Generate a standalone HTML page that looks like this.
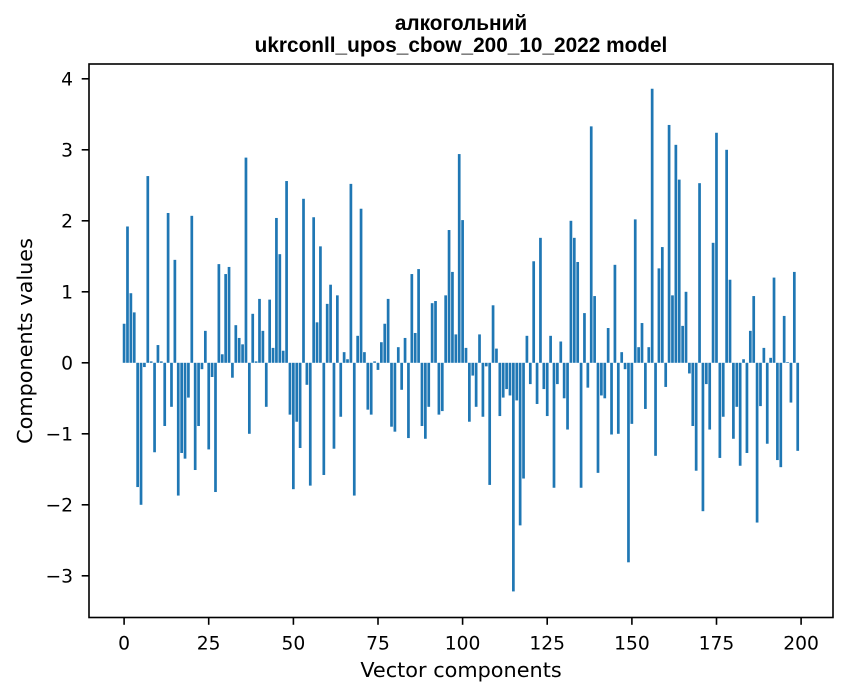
<!DOCTYPE html>
<html>
<head>
<meta charset="utf-8">
<style>
html,body{margin:0;padding:0;background:#fff;}
svg{display:block;}
text{font-family:"DejaVu Sans","Liberation Sans",sans-serif;fill:#000;}
.t{font-family:"Liberation Sans","DejaVu Sans",sans-serif;font-weight:bold;font-size:20.8px;}
.tk{font-size:18.7px;}
.lb{font-size:20.8px;}
</style>
</head>
<body>
<svg width="847" height="696" viewBox="0 0 847 696" xmlns="http://www.w3.org/2000/svg">
<rect x="0" y="0" width="847" height="696" fill="#fff"/>
<g transform="translate(124.1,362.8) scale(3.385,-71)" fill="#1f77b4">
<rect x="-0.4" y="0" width="0.8" height="0.55"/>
<rect x="0.6" y="0" width="0.8" height="1.92"/>
<rect x="1.6" y="0" width="0.8" height="0.98"/>
<rect x="2.6" y="0" width="0.8" height="0.71"/>
<rect x="3.6" y="-1.75" width="0.8" height="1.75"/>
<rect x="4.6" y="-2.0" width="0.8" height="2.0"/>
<rect x="5.6" y="-0.06" width="0.8" height="0.06"/>
<rect x="6.6" y="0" width="0.8" height="2.63"/>
<rect x="7.6" y="0" width="0.8" height="0.02"/>
<rect x="8.6" y="-1.26" width="0.8" height="1.26"/>
<rect x="9.6" y="0" width="0.8" height="0.25"/>
<rect x="10.6" y="0" width="0.8" height="0.02"/>
<rect x="11.6" y="-0.89" width="0.8" height="0.89"/>
<rect x="12.6" y="0" width="0.8" height="2.11"/>
<rect x="13.6" y="-0.62" width="0.8" height="0.62"/>
<rect x="14.6" y="0" width="0.8" height="1.45"/>
<rect x="15.6" y="-1.87" width="0.8" height="1.87"/>
<rect x="16.6" y="-1.27" width="0.8" height="1.27"/>
<rect x="17.6" y="-1.35" width="0.8" height="1.35"/>
<rect x="18.6" y="-0.49" width="0.8" height="0.49"/>
<rect x="19.6" y="0" width="0.8" height="2.07"/>
<rect x="20.6" y="-1.51" width="0.8" height="1.51"/>
<rect x="21.6" y="-0.89" width="0.8" height="0.89"/>
<rect x="22.6" y="-0.09" width="0.8" height="0.09"/>
<rect x="23.6" y="0" width="0.8" height="0.45"/>
<rect x="24.6" y="-1.22" width="0.8" height="1.22"/>
<rect x="25.6" y="-0.2" width="0.8" height="0.2"/>
<rect x="26.6" y="-1.82" width="0.8" height="1.82"/>
<rect x="27.6" y="0" width="0.8" height="1.39"/>
<rect x="28.6" y="0" width="0.8" height="0.12"/>
<rect x="29.6" y="0" width="0.8" height="1.25"/>
<rect x="30.6" y="0" width="0.8" height="1.35"/>
<rect x="31.6" y="-0.21" width="0.8" height="0.21"/>
<rect x="32.6" y="0" width="0.8" height="0.53"/>
<rect x="33.6" y="0" width="0.8" height="0.35"/>
<rect x="34.6" y="0" width="0.8" height="0.26"/>
<rect x="35.6" y="0" width="0.8" height="2.89"/>
<rect x="36.6" y="-1.0" width="0.8" height="1.0"/>
<rect x="37.6" y="0" width="0.8" height="0.69"/>
<rect x="38.6" y="0" width="0.8" height="0.02"/>
<rect x="39.6" y="0" width="0.8" height="0.90"/>
<rect x="40.6" y="0" width="0.8" height="0.45"/>
<rect x="41.6" y="-0.62" width="0.8" height="0.62"/>
<rect x="42.6" y="0" width="0.8" height="0.89"/>
<rect x="43.6" y="0" width="0.8" height="0.21"/>
<rect x="44.6" y="0" width="0.8" height="2.04"/>
<rect x="45.6" y="0" width="0.8" height="1.53"/>
<rect x="46.6" y="0" width="0.8" height="0.17"/>
<rect x="47.6" y="0" width="0.8" height="2.56"/>
<rect x="48.6" y="-0.73" width="0.8" height="0.73"/>
<rect x="49.6" y="-1.78" width="0.8" height="1.78"/>
<rect x="50.6" y="-0.83" width="0.8" height="0.83"/>
<rect x="51.6" y="-1.20" width="0.8" height="1.20"/>
<rect x="52.6" y="0" width="0.8" height="2.31"/>
<rect x="53.6" y="-0.31" width="0.8" height="0.31"/>
<rect x="54.6" y="-1.73" width="0.8" height="1.73"/>
<rect x="55.6" y="0" width="0.8" height="2.05"/>
<rect x="56.6" y="0" width="0.8" height="0.57"/>
<rect x="57.6" y="0" width="0.8" height="1.64"/>
<rect x="58.6" y="-1.58" width="0.8" height="1.58"/>
<rect x="59.6" y="0" width="0.8" height="0.83"/>
<rect x="60.6" y="0" width="0.8" height="1.10"/>
<rect x="61.6" y="-1.21" width="0.8" height="1.21"/>
<rect x="62.6" y="0" width="0.8" height="0.95"/>
<rect x="63.6" y="-0.76" width="0.8" height="0.76"/>
<rect x="64.6" y="0" width="0.8" height="0.15"/>
<rect x="65.6" y="0" width="0.8" height="0.05"/>
<rect x="66.6" y="0" width="0.8" height="2.52"/>
<rect x="67.6" y="-1.87" width="0.8" height="1.87"/>
<rect x="68.6" y="0" width="0.8" height="0.38"/>
<rect x="69.6" y="0" width="0.8" height="2.17"/>
<rect x="70.6" y="0" width="0.8" height="0.15"/>
<rect x="71.6" y="-0.66" width="0.8" height="0.66"/>
<rect x="72.6" y="-0.73" width="0.8" height="0.73"/>
<rect x="73.6" y="0" width="0.8" height="0.02"/>
<rect x="74.6" y="-0.10" width="0.8" height="0.10"/>
<rect x="75.6" y="0" width="0.8" height="0.29"/>
<rect x="76.6" y="0" width="0.8" height="0.55"/>
<rect x="77.6" y="0" width="0.8" height="0.90"/>
<rect x="78.6" y="-0.90" width="0.8" height="0.90"/>
<rect x="79.6" y="-0.97" width="0.8" height="0.97"/>
<rect x="80.6" y="0" width="0.8" height="0.22"/>
<rect x="81.6" y="-0.38" width="0.8" height="0.38"/>
<rect x="82.6" y="0" width="0.8" height="0.35"/>
<rect x="83.6" y="-1.06" width="0.8" height="1.06"/>
<rect x="84.6" y="0" width="0.8" height="1.25"/>
<rect x="85.6" y="0" width="0.8" height="0.42"/>
<rect x="86.6" y="0" width="0.8" height="1.32"/>
<rect x="87.6" y="-0.89" width="0.8" height="0.89"/>
<rect x="88.6" y="-1.07" width="0.8" height="1.07"/>
<rect x="89.6" y="-0.62" width="0.8" height="0.62"/>
<rect x="90.6" y="0" width="0.8" height="0.84"/>
<rect x="91.6" y="0" width="0.8" height="0.87"/>
<rect x="92.6" y="-0.73" width="0.8" height="0.73"/>
<rect x="93.6" y="-0.68" width="0.8" height="0.68"/>
<rect x="94.6" y="0" width="0.8" height="0.95"/>
<rect x="95.6" y="0" width="0.8" height="1.87"/>
<rect x="96.6" y="0" width="0.8" height="1.28"/>
<rect x="97.6" y="0" width="0.8" height="0.40"/>
<rect x="98.6" y="0" width="0.8" height="2.94"/>
<rect x="99.6" y="0" width="0.8" height="2.01"/>
<rect x="100.6" y="0" width="0.8" height="0.21"/>
<rect x="101.6" y="-0.83" width="0.8" height="0.83"/>
<rect x="102.6" y="-0.18" width="0.8" height="0.18"/>
<rect x="103.6" y="-0.62" width="0.8" height="0.62"/>
<rect x="104.6" y="0" width="0.8" height="0.40"/>
<rect x="105.6" y="-0.76" width="0.8" height="0.76"/>
<rect x="106.6" y="-0.05" width="0.8" height="0.05"/>
<rect x="107.6" y="-1.72" width="0.8" height="1.72"/>
<rect x="108.6" y="0" width="0.8" height="0.81"/>
<rect x="109.6" y="0" width="0.8" height="0.20"/>
<rect x="110.6" y="-0.75" width="0.8" height="0.75"/>
<rect x="111.6" y="-0.49" width="0.8" height="0.49"/>
<rect x="112.6" y="-0.37" width="0.8" height="0.37"/>
<rect x="113.6" y="-0.46" width="0.8" height="0.46"/>
<rect x="114.6" y="-3.22" width="0.8" height="3.22"/>
<rect x="115.6" y="-0.53" width="0.8" height="0.53"/>
<rect x="116.6" y="-2.29" width="0.8" height="2.29"/>
<rect x="117.6" y="-1.63" width="0.8" height="1.63"/>
<rect x="118.6" y="0" width="0.8" height="0.38"/>
<rect x="119.6" y="-0.30" width="0.8" height="0.30"/>
<rect x="120.6" y="0" width="0.8" height="1.43"/>
<rect x="121.6" y="-0.58" width="0.8" height="0.58"/>
<rect x="122.6" y="0" width="0.8" height="1.76"/>
<rect x="123.6" y="-0.37" width="0.8" height="0.37"/>
<rect x="124.6" y="-0.75" width="0.8" height="0.75"/>
<rect x="125.6" y="0" width="0.8" height="0.38"/>
<rect x="126.6" y="-1.76" width="0.8" height="1.76"/>
<rect x="127.6" y="-0.30" width="0.8" height="0.30"/>
<rect x="128.6" y="0" width="0.8" height="0.30"/>
<rect x="129.6" y="-0.50" width="0.8" height="0.50"/>
<rect x="130.6" y="-0.94" width="0.8" height="0.94"/>
<rect x="131.6" y="0" width="0.8" height="2.00"/>
<rect x="132.6" y="0" width="0.8" height="1.76"/>
<rect x="133.6" y="0" width="0.8" height="1.42"/>
<rect x="134.6" y="-1.76" width="0.8" height="1.76"/>
<rect x="135.6" y="0" width="0.8" height="0.70"/>
<rect x="136.6" y="-0.35" width="0.8" height="0.35"/>
<rect x="137.6" y="0" width="0.8" height="3.33"/>
<rect x="138.6" y="0" width="0.8" height="0.94"/>
<rect x="139.6" y="-1.55" width="0.8" height="1.55"/>
<rect x="140.6" y="-0.46" width="0.8" height="0.46"/>
<rect x="141.6" y="-0.50" width="0.8" height="0.50"/>
<rect x="142.6" y="0" width="0.8" height="0.49"/>
<rect x="143.6" y="-1.01" width="0.8" height="1.01"/>
<rect x="144.6" y="0" width="0.8" height="1.38"/>
<rect x="145.6" y="-1.00" width="0.8" height="1.00"/>
<rect x="146.6" y="0" width="0.8" height="0.15"/>
<rect x="147.6" y="-0.09" width="0.8" height="0.09"/>
<rect x="148.6" y="-2.81" width="0.8" height="2.81"/>
<rect x="149.6" y="-0.86" width="0.8" height="0.86"/>
<rect x="150.6" y="0" width="0.8" height="2.02"/>
<rect x="151.6" y="0" width="0.8" height="0.22"/>
<rect x="152.6" y="0" width="0.8" height="0.56"/>
<rect x="153.6" y="-0.65" width="0.8" height="0.65"/>
<rect x="154.6" y="0" width="0.8" height="0.22"/>
<rect x="155.6" y="0" width="0.8" height="3.86"/>
<rect x="156.6" y="-1.31" width="0.8" height="1.31"/>
<rect x="157.6" y="0" width="0.8" height="1.33"/>
<rect x="158.6" y="0" width="0.8" height="1.63"/>
<rect x="159.6" y="-0.34" width="0.8" height="0.34"/>
<rect x="160.6" y="0" width="0.8" height="3.35"/>
<rect x="161.6" y="0" width="0.8" height="0.95"/>
<rect x="162.6" y="0" width="0.8" height="3.07"/>
<rect x="163.6" y="0" width="0.8" height="2.58"/>
<rect x="164.6" y="0" width="0.8" height="0.52"/>
<rect x="165.6" y="0" width="0.8" height="1.00"/>
<rect x="166.6" y="-0.15" width="0.8" height="0.15"/>
<rect x="167.6" y="-0.89" width="0.8" height="0.89"/>
<rect x="168.6" y="-1.52" width="0.8" height="1.52"/>
<rect x="169.6" y="0" width="0.8" height="2.53"/>
<rect x="170.6" y="-2.09" width="0.8" height="2.09"/>
<rect x="171.6" y="-0.30" width="0.8" height="0.30"/>
<rect x="172.6" y="-0.94" width="0.8" height="0.94"/>
<rect x="173.6" y="0" width="0.8" height="1.69"/>
<rect x="174.6" y="0" width="0.8" height="3.24"/>
<rect x="175.6" y="-1.34" width="0.8" height="1.34"/>
<rect x="176.6" y="-0.76" width="0.8" height="0.76"/>
<rect x="177.6" y="0" width="0.8" height="3.00"/>
<rect x="178.6" y="0" width="0.8" height="1.17"/>
<rect x="179.6" y="-1.07" width="0.8" height="1.07"/>
<rect x="180.6" y="-0.62" width="0.8" height="0.62"/>
<rect x="181.6" y="-1.45" width="0.8" height="1.45"/>
<rect x="182.6" y="0" width="0.8" height="0.05"/>
<rect x="183.6" y="-1.27" width="0.8" height="1.27"/>
<rect x="184.6" y="0" width="0.8" height="0.45"/>
<rect x="185.6" y="0" width="0.8" height="0.94"/>
<rect x="186.6" y="-2.25" width="0.8" height="2.25"/>
<rect x="187.6" y="-0.61" width="0.8" height="0.61"/>
<rect x="188.6" y="0" width="0.8" height="0.21"/>
<rect x="189.6" y="-1.14" width="0.8" height="1.14"/>
<rect x="190.6" y="0" width="0.8" height="0.07"/>
<rect x="191.6" y="0" width="0.8" height="1.20"/>
<rect x="192.6" y="-1.37" width="0.8" height="1.37"/>
<rect x="193.6" y="-1.47" width="0.8" height="1.47"/>
<rect x="194.6" y="0" width="0.8" height="0.66"/>
<rect x="195.6" y="0" width="0.8" height="0.01"/>
<rect x="196.6" y="-0.56" width="0.8" height="0.56"/>
<rect x="197.6" y="0" width="0.8" height="1.28"/>
<rect x="198.6" y="-1.24" width="0.8" height="1.24"/>
</g>

<!-- spines -->
<rect x="89" y="64" width="744" height="553.5" fill="none" stroke="#000" stroke-width="1.6"/>

<!-- y ticks -->
<g stroke="#000" stroke-width="1.6">
<line x1="81.7" y1="78.8" x2="89" y2="78.8"/>
<line x1="81.7" y1="149.8" x2="89" y2="149.8"/>
<line x1="81.7" y1="220.8" x2="89" y2="220.8"/>
<line x1="81.7" y1="291.8" x2="89" y2="291.8"/>
<line x1="81.7" y1="362.8" x2="89" y2="362.8"/>
<line x1="81.7" y1="433.8" x2="89" y2="433.8"/>
<line x1="81.7" y1="504.8" x2="89" y2="504.8"/>
<line x1="81.7" y1="575.8" x2="89" y2="575.8"/>
</g>
<g class="tk" text-anchor="end">
<text x="73" y="85.6" class="tk">4</text>
<text x="73" y="156.6" class="tk">3</text>
<text x="73" y="227.6" class="tk">2</text>
<text x="73" y="298.6" class="tk">1</text>
<text x="73" y="369.6" class="tk">0</text>
<text x="73" y="440.6" class="tk">−1</text>
<text x="73" y="511.6" class="tk">−2</text>
<text x="73" y="582.6" class="tk">−3</text>
</g>

<!-- x ticks -->
<g stroke="#000" stroke-width="1.6">
<line x1="124.1" y1="617.5" x2="124.1" y2="624.8"/>
<line x1="208.7" y1="617.5" x2="208.7" y2="624.8"/>
<line x1="293.4" y1="617.5" x2="293.4" y2="624.8"/>
<line x1="378.0" y1="617.5" x2="378.0" y2="624.8"/>
<line x1="462.6" y1="617.5" x2="462.6" y2="624.8"/>
<line x1="547.2" y1="617.5" x2="547.2" y2="624.8"/>
<line x1="631.9" y1="617.5" x2="631.9" y2="624.8"/>
<line x1="716.5" y1="617.5" x2="716.5" y2="624.8"/>
<line x1="801.1" y1="617.5" x2="801.1" y2="624.8"/>
</g>
<g text-anchor="middle">
<text x="124.1" y="649.5" class="tk">0</text>
<text x="208.7" y="649.5" class="tk">25</text>
<text x="293.4" y="649.5" class="tk">50</text>
<text x="378.0" y="649.5" class="tk">75</text>
<text x="462.6" y="649.5" class="tk">100</text>
<text x="547.2" y="649.5" class="tk">125</text>
<text x="631.9" y="649.5" class="tk">150</text>
<text x="716.5" y="649.5" class="tk">175</text>
<text x="801.1" y="649.5" class="tk">200</text>
</g>

<!-- axis labels -->
<text x="461" y="677" text-anchor="middle" class="lb">Vector components</text>
<text transform="translate(32,341) rotate(-90)" text-anchor="middle" class="lb">Components values</text>

<!-- title -->
<text x="461" y="30" text-anchor="middle" class="t">алкогольний</text>
<text x="461" y="52" text-anchor="middle" class="t">ukrconll_upos_cbow_200_10_2022 model</text>
</svg>
</body>
</html>
